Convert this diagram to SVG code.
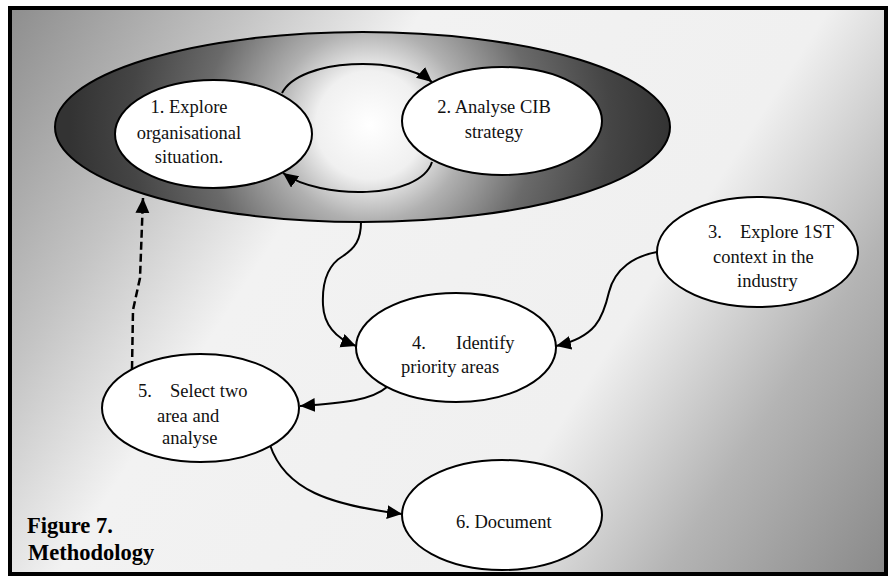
<svg xmlns="http://www.w3.org/2000/svg" width="890" height="578" viewBox="0 0 890 578">
<defs>
<linearGradient id="bg" gradientUnits="userSpaceOnUse" x1="0" y1="0" x2="890" y2="578">
<stop offset="0" stop-color="#8a8a8a"/>
<stop offset="0.2" stop-color="#c4c4c4"/>
<stop offset="0.34" stop-color="#f2f2f2"/>
<stop offset="0.66" stop-color="#f0f0f0"/>
<stop offset="0.82" stop-color="#b4b4b4"/>
<stop offset="1" stop-color="#888888"/>
</linearGradient>
<radialGradient id="glow" gradientUnits="userSpaceOnUse" cx="370" cy="125" r="300">
<stop offset="0" stop-color="#ffffff"/>
<stop offset="0.18" stop-color="#f0f0f0"/>
<stop offset="0.32" stop-color="#b0b0b0"/>
<stop offset="0.55" stop-color="#6a6a6a"/>
<stop offset="0.8" stop-color="#454545"/>
<stop offset="1" stop-color="#333333"/>
</radialGradient>
<marker id="arr" markerUnits="userSpaceOnUse" markerWidth="16" markerHeight="16" refX="15" refY="7" orient="auto" viewBox="0 0 16 16">
<path d="M0,0 L15,7 L0,14 z" fill="#000"/>
</marker>
</defs>
<style>
.node{fill:#fff;stroke:#000;stroke-width:2}
.lbl{font-family:"Liberation Serif","Times New Roman",serif;font-size:18.5px;fill:#111}
.cap{font-family:"Liberation Serif","Times New Roman",serif;font-size:22.5px;font-weight:bold;fill:#000}
.con{fill:none;stroke:#000;stroke-width:2;marker-end:url(#arr)}
.dash{stroke-width:2.5;stroke-dasharray:8 4}
</style>
<rect x="0" y="0" width="890" height="578" fill="#fff"/>
<rect id="frame" x="10" y="8" width="876" height="566" fill="url(#bg)" stroke="#000" stroke-width="4"/>
<g id="scope">
<ellipse cx="362.5" cy="127" rx="307.5" ry="95" fill="url(#glow)" stroke="#000" stroke-width="2"/>
</g>
<g id="connectors">
<path class="con" d="M282,93 C300,58 400,55 432,82"/>
<path class="con" d="M432,162 C420,200 320,200 283,173"/>
<path class="con" d="M361,222 C361,240 355,248 343,256 C326,266 322,285 323,305 C324,325 335,338 356,346"/>
<path class="con" d="M657,252 C635,256 615,268 609,292 C603,318 596,337 556,346"/>
<path class="con" d="M387,387 C372,400 345,403 300,406"/>
<path class="con" d="M270,445 C285,490 330,505 402,514"/>
<path class="con dash" d="M132,369 L133,310 L140,278 L143,198"/>
</g>
<g id="n1">
<ellipse class="node" cx="213.5" cy="134" rx="98.5" ry="54"/>
<text class="lbl" text-anchor="middle"><tspan x="189" y="113">1. Explore</tspan><tspan x="189" y="139">organisational</tspan><tspan x="189" y="163">situation.</tspan></text>
</g>
<g id="n2">
<ellipse class="node" cx="502" cy="121" rx="100" ry="54"/>
<text class="lbl" text-anchor="middle"><tspan x="494" y="113">2. Analyse CIB</tspan><tspan x="494" y="138">strategy</tspan></text>
</g>
<g id="n3">
<ellipse class="node" cx="757.5" cy="252" rx="100.5" ry="55"/>
<text class="lbl"><tspan x="708" y="238">3.</tspan><tspan x="740" y="238">Explore 1ST</tspan><tspan x="713" y="263">context in the</tspan><tspan x="737" y="287">industry</tspan></text>
</g>
<g id="n4">
<ellipse class="node" cx="456" cy="347.5" rx="100" ry="54.5"/>
<text class="lbl"><tspan x="412" y="349">4.</tspan><tspan x="456" y="349">Identify</tspan><tspan x="401" y="373">priority areas</tspan></text>
</g>
<g id="n5">
<ellipse class="node" cx="200.5" cy="408" rx="98.5" ry="54"/>
<text class="lbl"><tspan x="138" y="397">5.</tspan><tspan x="170" y="397">Select two</tspan><tspan x="157" y="422">area and</tspan><tspan x="162" y="444">analyse</tspan></text>
</g>
<g id="n6">
<ellipse class="node" cx="502" cy="515" rx="100" ry="55"/>
<text class="lbl"><tspan x="456" y="528">6. Document</tspan></text>
</g>
<g id="caption">
<text class="cap" x="27" y="533">Figure 7.</text>
<text class="cap" x="28" y="560">Methodology</text>
</g>
</svg>
